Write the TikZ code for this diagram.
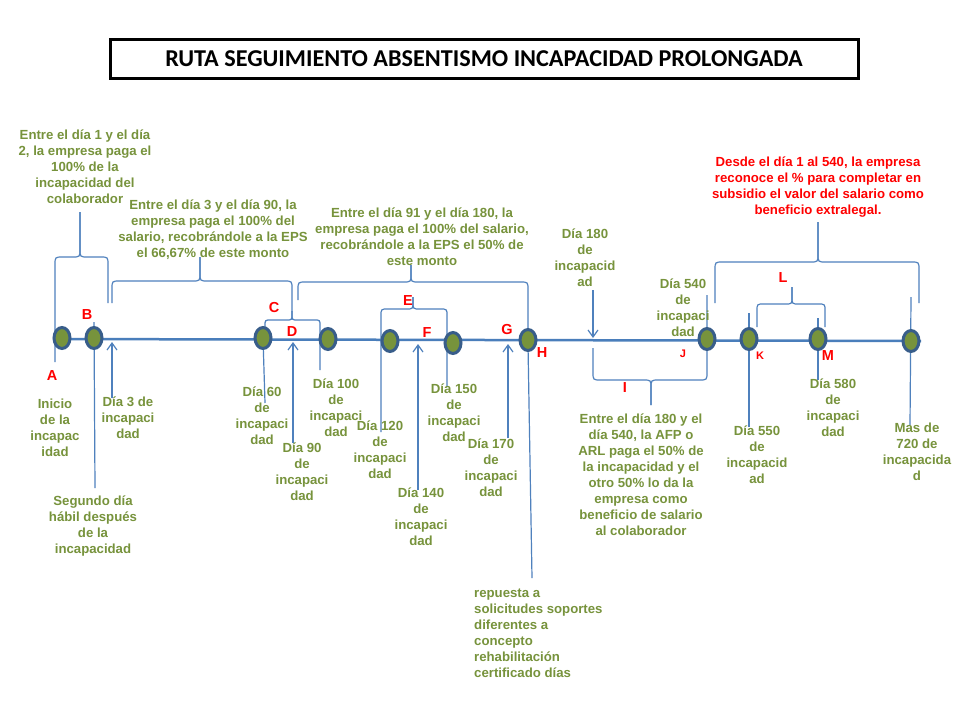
\documentclass[tikz,border=0pt]{standalone}
\usepackage{fontspec}
\setmainfont{Liberation Sans}
\newfontfamily\titlefont{Carlito}
\usetikzlibrary{shapes.geometric,arrows.meta}
\definecolor{olivec}{HTML}{77933C}
\definecolor{axisc}{HTML}{4A7EBB}
\definecolor{bracec}{HTML}{4F81BD}
\definecolor{rimc}{HTML}{385D8A}
\definecolor{redc}{HTML}{FF0000}
\tikzset{
  txt/.style={text=olivec, font=\bfseries\fontsize{13.2}{16}\selectfont, align=center, inner sep=0pt},
  redtxt/.style={text=redc, font=\bfseries\fontsize{13.2}{16}\selectfont, align=center, inner sep=0pt},
  lbl/.style={text=redc, font=\bfseries\fontsize{14.5}{14}\selectfont, inner sep=0pt},
  smalllbl/.style={text=redc, font=\bfseries\fontsize{11}{12}\selectfont, inner sep=0pt},
  dot/.style={ellipse, draw=rimc, line width=3pt, fill=olivec, minimum width=16pt, minimum height=21pt, inner sep=0pt},
  bracestyle/.style={draw=bracec, line width=1.2pt},
  vline/.style={draw=bracec, line width=1.2pt},
  uparrow/.style={draw=bracec, line width=1.2pt, -{Straight Barb[length=7pt,width=10pt]}},
  axisline/.style={draw=axisc, line width=2.5pt},
  titlebox/.style={draw=black, line width=3pt, minimum width=748pt, minimum height=39pt, inner sep=0pt,
    font=\titlefont\bfseries\fontsize{24.2}{26}\selectfont}
}
% xa ya xb yb yh xt ytip r
\newcommand\mybrace[8]{%
  \draw[bracestyle] (#1,#2) -- (#1,{#5+(#8)}) .. controls (#1,#5) .. ({#1+abs(#8)},#5)
    -- ({#6-abs(#8)},#5) .. controls (#6,#5) .. (#6,{#5-(#8)}) -- (#6,#7);
  \draw[bracestyle] (#6,#7) -- (#6,{#5-(#8)}) .. controls (#6,#5) .. ({#6+abs(#8)},#5)
    -- ({#3-abs(#8)},#5) .. controls (#3,#5) .. (#3,{#5+(#8)}) -- (#3,#4);}
\begin{document}
\begin{tikzpicture}[x=1pt,y=-1pt]
\useasboundingbox (0,0) rectangle (960,720);
\fill[white] (0,0) rectangle (960,720);
% title
\node[titlebox] (title) at (484,59) {RUTA SEGUIMIENTO ABSENTISMO INCAPACIDAD PROLONGADA};
% axis
\coordinate (axL) at (53,339);
\coordinate (axR) at (921,341);
\draw[axisline] (axL) -- (axR);
% braces
\mybrace{55}{362}{108}{303}{257}{80}{212}{8}
\mybrace{112}{303}{292}{311}{281}{200}{257}{8}
\mybrace{265}{330}{320}{370}{320}{292}{311}{6}
\mybrace{298}{300}{528}{345}{282}{411}{265}{8}
\mybrace{381}{432}{447}{387}{309}{413}{297}{7}
\mybrace{593}{348}{707}{295}{380}{651}{405}{-8}
\mybrace{715}{303}{919}{303}{262}{818}{222}{8}
\mybrace{757}{327}{825}{327}{304}{792}{287}{7}
% plain lines
\coordinate (hA) at (528,345);
\coordinate (hB) at (532,578);
\draw[vline] (hA) -- (hB);
\coordinate (b1) at (94,322); \coordinate (b2) at (95,488);
\draw[vline] (b1) -- (b2);
\coordinate (d60a) at (263,338); \coordinate (d60b) at (265,403);
\draw[vline] (d60a) -- (d60b);
\coordinate (k1) at (749,313); \coordinate (k2) at (749,427);
\draw[vline] (k1) -- (k2);
\coordinate (m1) at (818,318); \coordinate (m2) at (818,380);
\draw[vline] (m1) -- (m2);
\coordinate (n1) at (911,297); \coordinate (n2) at (910,425);
\draw[vline] (n1) -- (n2);
% arrows
\coordinate (a3s) at (112,398); \coordinate (a3e) at (112,342);
\draw[uparrow] (a3s) -- (a3e);
\coordinate (a90s) at (293,443); \coordinate (a90e) at (293,342);
\draw[uparrow] (a90s) -- (a90e);
\coordinate (aFs) at (418,490); \coordinate (aFe) at (418,344);
\draw[uparrow] (aFs) -- (aFe);
\coordinate (aGs) at (508,438); \coordinate (aGe) at (508,344);
\draw[uparrow] (aGs) -- (aGe);
\coordinate (a180s) at (593,290); \coordinate (a180e) at (593,338);
\draw[uparrow] (a180s) -- (a180e);
% dots
\node[dot] (c1) at (62,338) {};
\node[dot] (c2) at (94,338) {};
\node[dot] (c3) at (263,338) {};
\node[dot] (c4) at (328,339) {};
\node[dot] (c5) at (390,341) {};
\node[dot] (c6) at (453,343) {};
\node[dot] (c7) at (528,340) {};
\node[dot] (c8) at (707,339) {};
\node[dot] (c9) at (749,339) {};
\node[dot] (c10) at (818,339) {};
\node[dot] (c11) at (911,341) {};
% letters
\node[lbl] (lA) at (52,376) {A};
\node[lbl] (lB) at (87,315) {B};
\node[lbl] (lC) at (274,308) {C};
\node[lbl] (lD) at (292,332) {D};
\node[lbl] (lE) at (408,301) {E};
\node[lbl] (lF) at (427,333) {F};
\node[lbl] (lG) at (507,330) {G};
\node[lbl] (lH) at (542,353) {H};
\node[lbl] (lI) at (625,388) {I};
\node[smalllbl] (lJ) at (683,354) {J};
\node[smalllbl] (lK) at (760,356) {K};
\node[lbl] (lL) at (783,278) {L};
\node[lbl] (lM) at (828,356) {M};
% texts
\node[txt] (t1) at (85,167) {Entre el día 1 y el día\\2, la empresa paga el\\100\% de la\\incapacidad del\\colaborador};
\node[txt] (t2) at (213,230) {Entre el día 3 y el día 90, la\\empresa paga el 100\% del\\salario, recobrándole a la EPS\\el 66,67\% de este monto};
\node[txt] (t3) at (422,237) {Entre el día 91 y el día 180, la\\empresa paga el 100\% del salario,\\recobrándole a la EPS el 50\% de\\este monto};
\node[redtxt] (t4) at (818,187) {Desde el día 1 al 540, la empresa\\reconoce el \% para completar en\\subsidio el valor del salario como\\beneficio extralegal.};
\node[txt] (t180) at (585,258) {Día 180\\de\\incapacid\\ad};
\node[txt] (t540) at (683,308) {Día 540\\de\\incapaci\\dad};
\node[txt] (tini) at (55,428) {Inicio\\de la\\incapac\\idad};
\node[txt] (td3) at (128,418) {Día 3 de\\incapaci\\dad};
\node[txt] (tseg) at (93,526) {Segundo día\\hábil después\\de la\\incapacidad};
\node[txt] (td60) at (262,416) {Día 60\\de\\incapaci\\dad};
\node[txt] (td90) at (302,472) {Día 90\\de\\incapaci\\dad};
\node[txt] (td100) at (336,408) {Día 100\\de\\incapaci\\dad};
\node[txt] (td120) at (380,450) {Día 120\\de\\incapaci\\dad};
\node[txt] (td140) at (421,517) {Día 140\\de\\incapaci\\dad};
\node[txt] (td150) at (454,413) {Día 150\\de\\incapaci\\dad};
\node[txt] (td170) at (491,468) {Día 170\\de\\incapaci\\dad};
\node[txt, align=left, anchor=west] (trep) at (474,633) {repuesta a\\solicitudes soportes\\diferentes a\\concepto\\rehabilitación\\certificado días};
\node[txt] (tafp) at (641,475) {Entre el día 180 y el\\día 540, la AFP o\\ARL paga el 50\% de\\la incapacidad y el\\otro 50\% lo da la\\empresa como\\beneficio de salario\\al colaborador};
\node[txt] (td550) at (757,455) {Día 550\\de\\incapacid\\ad};
\node[txt] (td580) at (833,408) {Día 580\\de\\incapaci\\dad};
\node[txt] (td720) at (917,452) {Mas de\\720 de\\incapacida\\d};
\end{tikzpicture}
\end{document}
